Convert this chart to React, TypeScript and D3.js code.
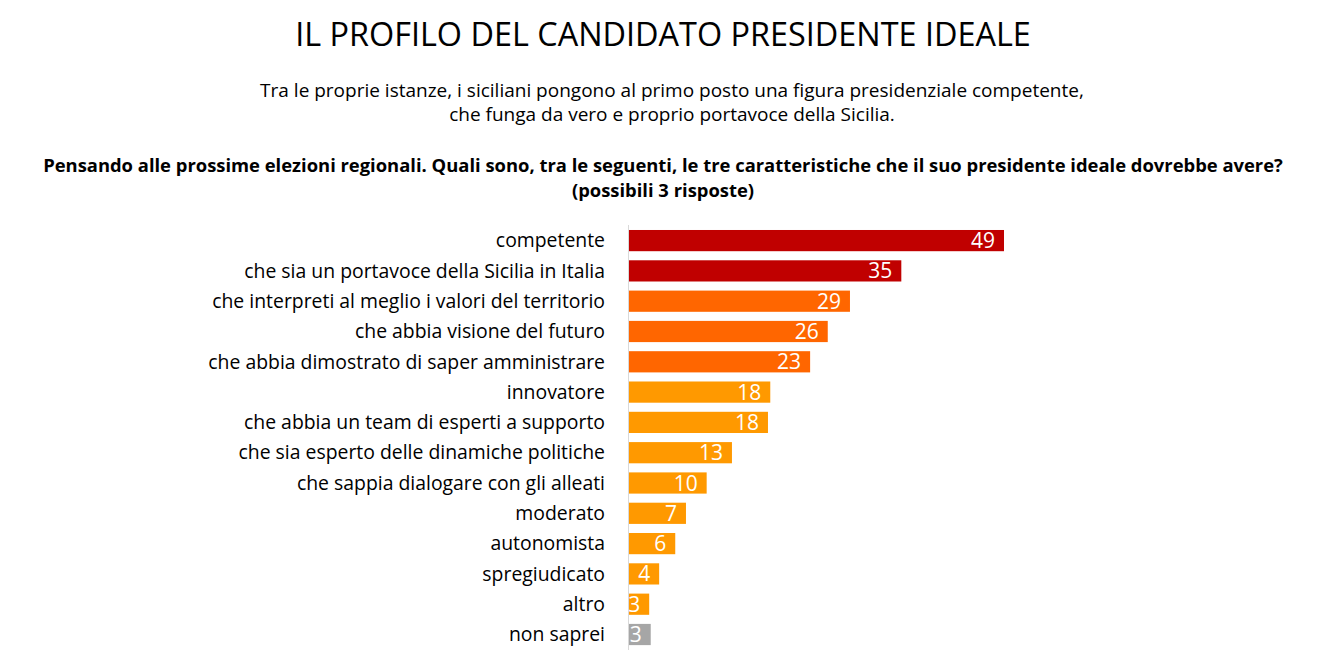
import { useRef, useEffect } from "react";
import * as d3 from "d3";

const categories = [
  "competente",
  "che sia un portavoce della Sicilia in Italia",
  "che interpreti al meglio i valori del territorio",
  "che abbia visione del futuro",
  "che abbia dimostrato di saper amministrare",
  "innovatore",
  "che abbia un team di esperti a supporto",
  "che sia esperto delle dinamiche politiche",
  "che sappia dialogare con gli alleati",
  "moderato",
  "autonomista",
  "spregiudicato",
  "altro",
  "non saprei",
];
// bar lengths
const values = [49, 35.6, 28.9, 26.0, 23.7, 18.5, 18.2, 13.5, 10.2, 7.5, 6.1, 4.0, 2.7, 2.9];
// labels as printed on the bars
const shown = ["49", "35", "29", "26", "23", "18", "18", "13", "10", "7", "6", "4", "3", "3"];
const groups = ["top", "top", "mid", "mid", "mid", "low", "low", "low", "low", "low", "low", "low", "low", "nd"];

const groupColor = { top: "#C00000", mid: "#FF6600", low: "#FF9900", nd: "#A6A6A6" };

const title = "IL PROFILO DEL CANDIDATO PRESIDENTE IDEALE";
const subtitle = [
  "Tra le proprie istanze, i siciliani pongono al primo posto una figura presidenziale competente,",
  "che funga da vero e proprio portavoce della Sicilia.",
];
const question = [
  "Pensando alle prossime elezioni regionali. Quali sono, tra le seguenti, le tre caratteristiche che il suo presidente ideale dovrebbe avere?",
  "(possibili 3 risposte)",
];

const FONT = "'Open Sans', sans-serif";

export default function App() {
  const svgRef = useRef(null);

  useEffect(() => {
    const width = 1326, height = 671;
    const svg = d3.select(svgRef.current).attr("width", width).attr("height", height);
    svg.selectAll("*").remove();

    const rows = categories.map((c, i) => ({ c, v: values[i], s: shown[i], g: groups[i] }));

    const x = d3.scaleLinear().domain([0, 49]).range([628.5, 1004]);
    const y = d3.scaleBand().domain(categories).range([220.9, 654.2]).padding(0.3);

    // headings
    svg.append("text")
      .attr("x", 663).attr("y", 46)
      .attr("text-anchor", "middle")
      .style("font-family", FONT).style("font-size", "32.4px")
      .attr("fill", "#000")
      .text(title);

    svg.selectAll(".sub")
      .data(subtitle)
      .enter()
      .append("text")
      .attr("class", "sub")
      .attr("x", 672).attr("y", (d, i) => 96.5 + i * 24.5)
      .attr("text-anchor", "middle")
      .style("font-family", FONT).style("font-size", "19px")
      .attr("fill", "#000")
      .text((d) => d);

    svg.selectAll(".q")
      .data(question)
      .enter()
      .append("text")
      .attr("class", "q")
      .attr("x", 663).attr("y", (d, i) => 172 + i * 25)
      .attr("text-anchor", "middle")
      .style("font-family", FONT).style("font-size", "18.4px").style("font-weight", "bold")
      .attr("fill", "#000")
      .text((d) => d);

    // bars
    svg.selectAll(".bar")
      .data(rows)
      .enter()
      .append("rect")
      .attr("class", "bar")
      .attr("x", x(0))
      .attr("y", (d) => y(d.c))
      .attr("width", (d) => x(d.v) - x(0))
      .attr("height", y.bandwidth())
      .attr("fill", (d) => groupColor[d.g]);

    // axis line
    svg.append("line")
      .attr("x1", x(0)).attr("x2", x(0))
      .attr("y1", 225).attr("y2", 650)
      .attr("stroke", "#d9d9d9").attr("stroke-width", 1);

    // category labels
    svg.selectAll(".cat")
      .data(rows)
      .enter()
      .append("text")
      .attr("class", "cat")
      .attr("x", 605)
      .attr("y", (d) => y(d.c) + y.bandwidth() / 2)
      .attr("dy", "0.35em")
      .attr("text-anchor", "end")
      .style("font-family", FONT).style("font-size", "19.4px")
      .attr("fill", "#000")
      .text((d) => d.c);

    // value labels
    svg.selectAll(".val")
      .data(rows)
      .enter()
      .append("text")
      .attr("class", "val")
      .attr("x", (d) => x(d.v) - 9)
      .attr("y", (d) => y(d.c) + y.bandwidth() / 2)
      .attr("dy", "0.36em")
      .attr("text-anchor", "end")
      .style("font-family", FONT).style("font-size", "21px")
      .attr("fill", "#fff")
      .text((d) => d.s);

    return () => {
      d3.select(svgRef.current).selectAll("*").remove();
    };
  }, []);

  return (
    <div>
      <svg ref={svgRef} style={{ position: "absolute", left: 0, top: 0 }}></svg>
    </div>
  );
}
